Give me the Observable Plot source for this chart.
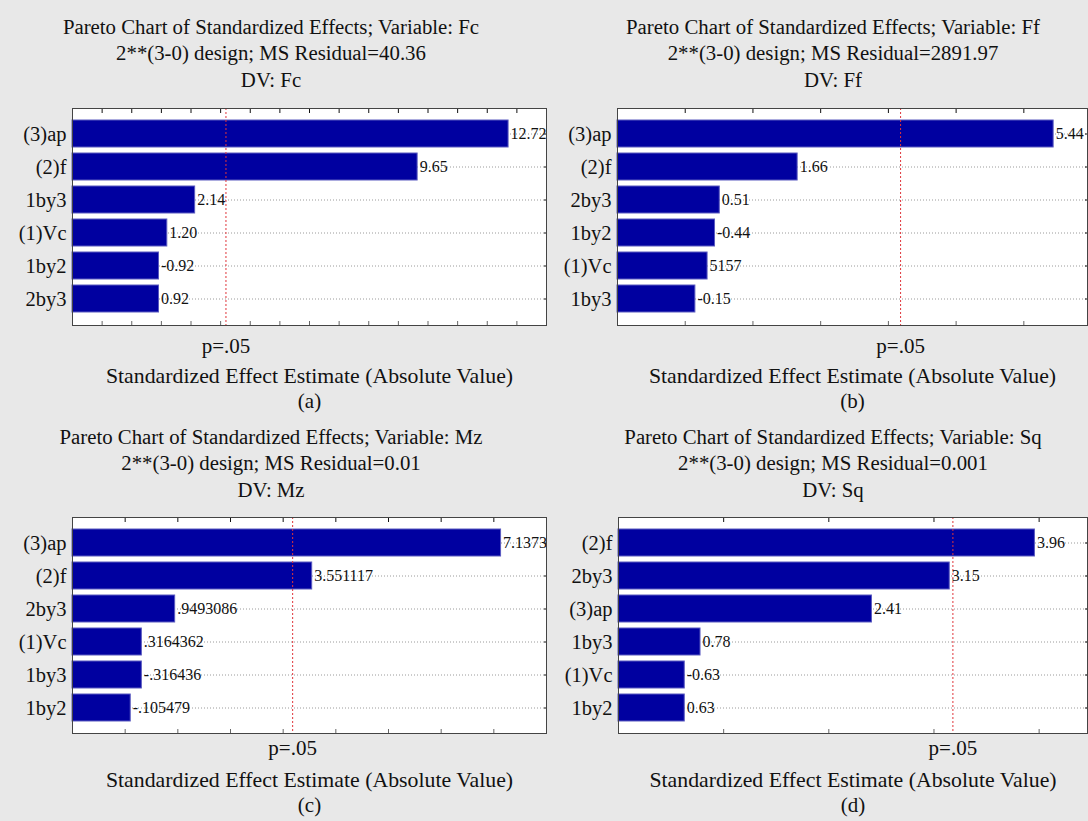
<!DOCTYPE html>
<html><head><meta charset="utf-8">
<script src="https://cdn.jsdelivr.net/npm/d3@7"></script>
<script src="https://cdn.jsdelivr.net/npm/@observablehq/plot@0.6"></script>
<style>
html,body{margin:0;padding:0;background:#e8e8e8;overflow:hidden}
#fig{position:relative;width:1088px;height:821px;background:#e8e8e8;overflow:hidden;font-family:"Liberation Serif","Times New Roman",serif;color:#111}
.title{position:absolute;width:600px;text-align:center;font-size:20.8px;line-height:26.8px;white-space:nowrap}
.panel{position:absolute}
.panel svg{overflow:visible}
</style></head><body><div id="fig"></div>
<script>
// ---- data ----
const catsA = ["(3)ap","(2)f","1by3","(1)Vc","1by2","2by3"];
const valuesA = [12.72, 9.65, 2.14, 1.20, -0.92, 0.92];
const labelsA = ["12.72","9.65","2.14","1.20","-0.92","0.92"];
const titleA = ["Pareto Chart of Standardized Effects; Variable: Fc","2**(3-0) design; MS Residual=40.36","DV: Fc"];

const catsB = ["(3)ap","(2)f","2by3","1by2","(1)Vc","1by3"];
const valuesB = [5.44, 1.66, 0.51, -0.44, 0.33, -0.15];
const labelsB = ["5.44","1.66","0.51","-0.44","5157","-0.15"];
const titleB = ["Pareto Chart of Standardized Effects; Variable: Ff","2**(3-0) design; MS Residual=2891.97","DV: Ff"];

const catsC = ["(3)ap","(2)f","2by3","(1)Vc","1by3","1by2"];
const valuesC = [7.1373, 3.551117, 0.9493086, 0.3164362, -0.316436, -0.105479];
const labelsC = ["7.1373","3.551117",".9493086",".3164362","-.316436","-.105479"];
const titleC = ["Pareto Chart of Standardized Effects; Variable: Mz","2**(3-0) design; MS Residual=0.01","DV: Mz"];

const catsD = ["(2)f","2by3","(3)ap","1by3","(1)Vc","1by2"];
const valuesD = [3.96, 3.15, 2.41, 0.78, -0.63, 0.63];
const labelsD = ["3.96","3.15","2.41","0.78","-0.63","0.63"];
const titleD = ["Pareto Chart of Standardized Effects; Variable: Sq","2**(3-0) design; MS Residual=0.001","DV: Sq"];

const pCrit = 3.18;
const pLabel = "p=.05";
const xTitle = "Standardized Effect Estimate (Absolute Value)";
const captions = ["(a)","(b)","(c)","(d)"];
const domains = [[-2, 14], [-1, 5.94], [-1, 8], [0, 4.46]];

// ---- layout ----
const panels = [
  {cats:catsA, values:valuesA, labels:labelsA, title:titleA, domain:domains[0], caption:captions[0],
   left:0, top:0, width:548, height:410, mL:72, mR:2, mT:108, mB:85, titleCx:271, titleTop:13.5, dy:[27,57,82]},
  {cats:catsB, values:valuesB, labels:labelsB, title:titleB, domain:domains[1], caption:captions[1],
   left:544, top:0, width:544, height:410, mL:73, mR:1, mT:108, mB:85, titleCx:833, titleTop:13.5, dy:[27,57,82]},
  {cats:catsC, values:valuesC, labels:labelsC, title:titleC, domain:domains[2], caption:captions[2],
   left:0, top:410, width:548, height:411, mL:72, mR:2, mT:107, mB:88, titleCx:271, titleTop:423.5, dy:[21.5,53.5,78.5]},
  {cats:catsD, values:valuesD, labels:labelsD, title:titleD, domain:domains[3], caption:captions[3],
   left:544, top:410, width:544, height:411, mL:74, mR:1, mT:107, mB:88, titleCx:833, titleTop:423.5, dy:[21.5,53.5,78.5]}
];

const fig = document.getElementById("fig");
const serif = '"Liberation Serif","Times New Roman",serif';

for (const p of panels) {
  const rows = p.cats.map((c, i) => ({cat: c, abs: Math.abs(p.values[i]), label: p.labels[i]}));
  const ticks = d3.range(Math.ceil(p.domain[0]), Math.floor(p.domain[1]) + 1);
  const chart = Plot.plot({
    width: p.width, height: p.height,
    marginLeft: p.mL, marginRight: p.mR, marginTop: p.mT, marginBottom: p.mB,
    style: {background: "transparent", fontFamily: serif, fontSize: "20px", color: "#111", overflow: "visible"},
    x: {domain: p.domain},
    y: {domain: p.cats, paddingInner: 0.18, paddingOuter: 0.33},
    marks: [
      Plot.frame({fill: "white", stroke: null}),
      Plot.gridY({stroke: "#9a9a9a", strokeOpacity: 1, strokeDasharray: "1,2"}),
      Plot.barX(rows, {y: "cat", x1: p.domain[0], x2: "abs", fill: "#0000a0", stroke: "#5a5ac0", strokeWidth: 1}),
      Plot.ruleX([pCrit], {stroke: "#e0353a", strokeDasharray: "2,2", strokeWidth: 1}),
      Plot.text(rows, {y: "cat", x: "abs", text: "label", textAnchor: "start", dx: 2, fontSize: 16, fill: "#111", clip: true}),
      Plot.axisY({anchor: "left", tickSize: 0, tickPadding: 6, label: null, fontSize: 20.5}),
      Plot.axisY({anchor: "right", tickSize: -3, tickFormat: () => "", label: null}),
      Plot.axisX({anchor: "top", ticks, tickSize: -4, tickFormat: () => "", label: null}),
      Plot.axisX({anchor: "bottom", ticks, tickSize: -4, tickFormat: () => "", label: null, stroke: "#666"}),
      Plot.frame({stroke: "#444"}),
      Plot.text([pLabel], {x: pCrit, frameAnchor: "bottom", dy: p.dy[0], fontSize: 21, fill: "#111"}),
      Plot.text([xTitle], {frameAnchor: "bottom", dy: p.dy[1], fontSize: 21.8, fill: "#111"}),
      Plot.text([p.caption], {frameAnchor: "bottom", dy: p.dy[2], fontSize: 21, fill: "#111"})
    ]
  });
  const wrap = document.createElement("div");
  wrap.className = "panel";
  wrap.style.left = p.left + "px";
  wrap.style.top = p.top + "px";
  wrap.appendChild(chart);
  fig.appendChild(wrap);

  const t = document.createElement("div");
  t.className = "title";
  t.style.left = (p.titleCx - 300) + "px";
  t.style.top = p.titleTop + "px";
  for (const line of p.title) {
    const d = document.createElement("div");
    d.textContent = line;
    t.appendChild(d);
  }
  fig.appendChild(t);
}
</script></body></html>
